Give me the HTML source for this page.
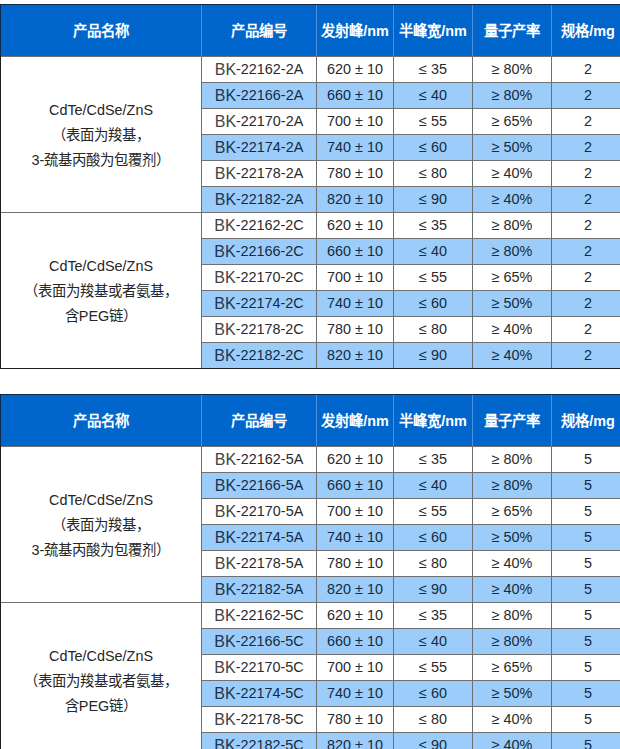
<!DOCTYPE html>
<html lang="zh-CN"><head><meta charset="utf-8"><style>
html,body{margin:0;padding:0;background:#fff;}
body{width:620px;height:749px;overflow:hidden;position:relative;font-family:"Liberation Sans",sans-serif;}
body>div{position:absolute;}
.t{display:flex;align-items:center;justify-content:center;text-align:center;font-size:14.4px;color:#333;white-space:nowrap;}
.h{color:#fff;font-weight:bold;padding-bottom:3px;box-sizing:border-box;}
.d{color:#2a2a2a;padding-bottom:1px;box-sizing:border-box;}
.bk{font-size:16px;color:#444;position:relative;top:1px;}
.a{color:#142a40;}
.a .bk{color:#1f3550;}
.g{line-height:25px;color:#262626;padding-top:1px;box-sizing:border-box;}
</style></head><body>
<div style="left:0px;top:4px;width:620px;height:53px;background:#0066cc"></div>
<div class="t h" style="left:1px;top:5px;width:200px;height:51px">产品名称</div>
<div class="t h" style="left:202px;top:5px;width:114px;height:51px">产品编号</div>
<div class="t h" style="left:317px;top:5px;width:76px;height:51px">发射峰/nm</div>
<div class="t h" style="left:394px;top:5px;width:78px;height:51px">半峰宽/nm</div>
<div class="t h" style="left:473px;top:5px;width:78px;height:51px">量子产率</div>
<div class="t h" style="left:552px;top:5px;width:72px;height:51px">规格/mg</div>
<div style="left:201px;top:82px;width:419px;height:26px;background:#9ccdfa"></div>
<div style="left:201px;top:134px;width:419px;height:26px;background:#9ccdfa"></div>
<div style="left:201px;top:186px;width:419px;height:26px;background:#9ccdfa"></div>
<div style="left:201px;top:238px;width:419px;height:26px;background:#9ccdfa"></div>
<div style="left:201px;top:290px;width:419px;height:26px;background:#9ccdfa"></div>
<div style="left:201px;top:342px;width:419px;height:26px;background:#9ccdfa"></div>
<div style="left:0px;top:56px;width:620px;height:1px;background:#707070"></div>
<div style="left:201px;top:82px;width:419px;height:1px;background:#707070"></div>
<div style="left:201px;top:108px;width:419px;height:1px;background:#707070"></div>
<div style="left:201px;top:134px;width:419px;height:1px;background:#707070"></div>
<div style="left:201px;top:160px;width:419px;height:1px;background:#707070"></div>
<div style="left:201px;top:186px;width:419px;height:1px;background:#707070"></div>
<div style="left:0px;top:212px;width:620px;height:1px;background:#707070"></div>
<div style="left:201px;top:238px;width:419px;height:1px;background:#707070"></div>
<div style="left:201px;top:264px;width:419px;height:1px;background:#707070"></div>
<div style="left:201px;top:290px;width:419px;height:1px;background:#707070"></div>
<div style="left:201px;top:316px;width:419px;height:1px;background:#707070"></div>
<div style="left:201px;top:342px;width:419px;height:1px;background:#707070"></div>
<div style="left:201px;top:4px;width:1px;height:52px;background:#4b8fdd"></div>
<div style="left:201px;top:56px;width:1px;height:312px;background:#707070"></div>
<div style="left:316px;top:4px;width:1px;height:52px;background:#4b8fdd"></div>
<div style="left:316px;top:56px;width:1px;height:312px;background:#707070"></div>
<div style="left:393px;top:4px;width:1px;height:52px;background:#4b8fdd"></div>
<div style="left:393px;top:56px;width:1px;height:312px;background:#707070"></div>
<div style="left:472px;top:4px;width:1px;height:52px;background:#4b8fdd"></div>
<div style="left:472px;top:56px;width:1px;height:312px;background:#707070"></div>
<div style="left:551px;top:4px;width:1px;height:52px;background:#4b8fdd"></div>
<div style="left:551px;top:56px;width:1px;height:312px;background:#707070"></div>
<div style="left:0px;top:4px;width:620px;height:1px;background:#0d2a4d"></div>
<div style="left:0px;top:4px;width:1px;height:52px;background:#0d2a4d"></div>
<div style="left:0px;top:56px;width:1px;height:313px;background:#1e1e1e"></div>
<div style="left:0px;top:368px;width:620px;height:1px;background:#1e1e1e"></div>
<div class="t g" style="left:1px;top:57px;width:200px;height:155px">CdTe/CdSe/ZnS<br>（表面为羧基，<br>3-巯基丙酸为包覆剂）</div>
<div class="t d" style="left:202px;top:57px;width:114px;height:25px"><span class="bk">BK</span>-22162-2A</div>
<div class="t d" style="left:317px;top:57px;width:76px;height:25px">620 ± 10</div>
<div class="t d" style="left:394px;top:57px;width:78px;height:25px">≤ 35</div>
<div class="t d" style="left:473px;top:57px;width:78px;height:25px">≥ 80%</div>
<div class="t d" style="left:552px;top:57px;width:72px;height:25px">2</div>
<div class="t d a" style="left:202px;top:83px;width:114px;height:25px"><span class="bk">BK</span>-22166-2A</div>
<div class="t d a" style="left:317px;top:83px;width:76px;height:25px">660 ± 10</div>
<div class="t d a" style="left:394px;top:83px;width:78px;height:25px">≤ 40</div>
<div class="t d a" style="left:473px;top:83px;width:78px;height:25px">≥ 80%</div>
<div class="t d a" style="left:552px;top:83px;width:72px;height:25px">2</div>
<div class="t d" style="left:202px;top:109px;width:114px;height:25px"><span class="bk">BK</span>-22170-2A</div>
<div class="t d" style="left:317px;top:109px;width:76px;height:25px">700 ± 10</div>
<div class="t d" style="left:394px;top:109px;width:78px;height:25px">≤ 55</div>
<div class="t d" style="left:473px;top:109px;width:78px;height:25px">≥ 65%</div>
<div class="t d" style="left:552px;top:109px;width:72px;height:25px">2</div>
<div class="t d a" style="left:202px;top:135px;width:114px;height:25px"><span class="bk">BK</span>-22174-2A</div>
<div class="t d a" style="left:317px;top:135px;width:76px;height:25px">740 ± 10</div>
<div class="t d a" style="left:394px;top:135px;width:78px;height:25px">≤ 60</div>
<div class="t d a" style="left:473px;top:135px;width:78px;height:25px">≥ 50%</div>
<div class="t d a" style="left:552px;top:135px;width:72px;height:25px">2</div>
<div class="t d" style="left:202px;top:161px;width:114px;height:25px"><span class="bk">BK</span>-22178-2A</div>
<div class="t d" style="left:317px;top:161px;width:76px;height:25px">780 ± 10</div>
<div class="t d" style="left:394px;top:161px;width:78px;height:25px">≤ 80</div>
<div class="t d" style="left:473px;top:161px;width:78px;height:25px">≥ 40%</div>
<div class="t d" style="left:552px;top:161px;width:72px;height:25px">2</div>
<div class="t d a" style="left:202px;top:187px;width:114px;height:25px"><span class="bk">BK</span>-22182-2A</div>
<div class="t d a" style="left:317px;top:187px;width:76px;height:25px">820 ± 10</div>
<div class="t d a" style="left:394px;top:187px;width:78px;height:25px">≤ 90</div>
<div class="t d a" style="left:473px;top:187px;width:78px;height:25px">≥ 40%</div>
<div class="t d a" style="left:552px;top:187px;width:72px;height:25px">2</div>
<div class="t g" style="left:1px;top:213px;width:200px;height:155px">CdTe/CdSe/ZnS<br>（表面为羧基或者氨基，<br>含PEG链）</div>
<div class="t d" style="left:202px;top:213px;width:114px;height:25px"><span class="bk">BK</span>-22162-2C</div>
<div class="t d" style="left:317px;top:213px;width:76px;height:25px">620 ± 10</div>
<div class="t d" style="left:394px;top:213px;width:78px;height:25px">≤ 35</div>
<div class="t d" style="left:473px;top:213px;width:78px;height:25px">≥ 80%</div>
<div class="t d" style="left:552px;top:213px;width:72px;height:25px">2</div>
<div class="t d a" style="left:202px;top:239px;width:114px;height:25px"><span class="bk">BK</span>-22166-2C</div>
<div class="t d a" style="left:317px;top:239px;width:76px;height:25px">660 ± 10</div>
<div class="t d a" style="left:394px;top:239px;width:78px;height:25px">≤ 40</div>
<div class="t d a" style="left:473px;top:239px;width:78px;height:25px">≥ 80%</div>
<div class="t d a" style="left:552px;top:239px;width:72px;height:25px">2</div>
<div class="t d" style="left:202px;top:265px;width:114px;height:25px"><span class="bk">BK</span>-22170-2C</div>
<div class="t d" style="left:317px;top:265px;width:76px;height:25px">700 ± 10</div>
<div class="t d" style="left:394px;top:265px;width:78px;height:25px">≤ 55</div>
<div class="t d" style="left:473px;top:265px;width:78px;height:25px">≥ 65%</div>
<div class="t d" style="left:552px;top:265px;width:72px;height:25px">2</div>
<div class="t d a" style="left:202px;top:291px;width:114px;height:25px"><span class="bk">BK</span>-22174-2C</div>
<div class="t d a" style="left:317px;top:291px;width:76px;height:25px">740 ± 10</div>
<div class="t d a" style="left:394px;top:291px;width:78px;height:25px">≤ 60</div>
<div class="t d a" style="left:473px;top:291px;width:78px;height:25px">≥ 50%</div>
<div class="t d a" style="left:552px;top:291px;width:72px;height:25px">2</div>
<div class="t d" style="left:202px;top:317px;width:114px;height:25px"><span class="bk">BK</span>-22178-2C</div>
<div class="t d" style="left:317px;top:317px;width:76px;height:25px">780 ± 10</div>
<div class="t d" style="left:394px;top:317px;width:78px;height:25px">≤ 80</div>
<div class="t d" style="left:473px;top:317px;width:78px;height:25px">≥ 40%</div>
<div class="t d" style="left:552px;top:317px;width:72px;height:25px">2</div>
<div class="t d a" style="left:202px;top:343px;width:114px;height:25px"><span class="bk">BK</span>-22182-2C</div>
<div class="t d a" style="left:317px;top:343px;width:76px;height:25px">820 ± 10</div>
<div class="t d a" style="left:394px;top:343px;width:78px;height:25px">≤ 90</div>
<div class="t d a" style="left:473px;top:343px;width:78px;height:25px">≥ 40%</div>
<div class="t d a" style="left:552px;top:343px;width:72px;height:25px">2</div>
<div style="left:0px;top:394px;width:620px;height:53px;background:#0066cc"></div>
<div class="t h" style="left:1px;top:395px;width:200px;height:51px">产品名称</div>
<div class="t h" style="left:202px;top:395px;width:114px;height:51px">产品编号</div>
<div class="t h" style="left:317px;top:395px;width:76px;height:51px">发射峰/nm</div>
<div class="t h" style="left:394px;top:395px;width:78px;height:51px">半峰宽/nm</div>
<div class="t h" style="left:473px;top:395px;width:78px;height:51px">量子产率</div>
<div class="t h" style="left:552px;top:395px;width:72px;height:51px">规格/mg</div>
<div style="left:201px;top:472px;width:419px;height:26px;background:#9ccdfa"></div>
<div style="left:201px;top:524px;width:419px;height:26px;background:#9ccdfa"></div>
<div style="left:201px;top:576px;width:419px;height:26px;background:#9ccdfa"></div>
<div style="left:201px;top:628px;width:419px;height:26px;background:#9ccdfa"></div>
<div style="left:201px;top:680px;width:419px;height:26px;background:#9ccdfa"></div>
<div style="left:201px;top:732px;width:419px;height:26px;background:#9ccdfa"></div>
<div style="left:0px;top:446px;width:620px;height:1px;background:#707070"></div>
<div style="left:201px;top:472px;width:419px;height:1px;background:#707070"></div>
<div style="left:201px;top:498px;width:419px;height:1px;background:#707070"></div>
<div style="left:201px;top:524px;width:419px;height:1px;background:#707070"></div>
<div style="left:201px;top:550px;width:419px;height:1px;background:#707070"></div>
<div style="left:201px;top:576px;width:419px;height:1px;background:#707070"></div>
<div style="left:0px;top:602px;width:620px;height:1px;background:#707070"></div>
<div style="left:201px;top:628px;width:419px;height:1px;background:#707070"></div>
<div style="left:201px;top:654px;width:419px;height:1px;background:#707070"></div>
<div style="left:201px;top:680px;width:419px;height:1px;background:#707070"></div>
<div style="left:201px;top:706px;width:419px;height:1px;background:#707070"></div>
<div style="left:201px;top:732px;width:419px;height:1px;background:#707070"></div>
<div style="left:201px;top:394px;width:1px;height:52px;background:#4b8fdd"></div>
<div style="left:201px;top:446px;width:1px;height:312px;background:#707070"></div>
<div style="left:316px;top:394px;width:1px;height:52px;background:#4b8fdd"></div>
<div style="left:316px;top:446px;width:1px;height:312px;background:#707070"></div>
<div style="left:393px;top:394px;width:1px;height:52px;background:#4b8fdd"></div>
<div style="left:393px;top:446px;width:1px;height:312px;background:#707070"></div>
<div style="left:472px;top:394px;width:1px;height:52px;background:#4b8fdd"></div>
<div style="left:472px;top:446px;width:1px;height:312px;background:#707070"></div>
<div style="left:551px;top:394px;width:1px;height:52px;background:#4b8fdd"></div>
<div style="left:551px;top:446px;width:1px;height:312px;background:#707070"></div>
<div style="left:0px;top:394px;width:620px;height:1px;background:#0d2a4d"></div>
<div style="left:0px;top:394px;width:1px;height:52px;background:#0d2a4d"></div>
<div style="left:0px;top:446px;width:1px;height:313px;background:#1e1e1e"></div>
<div style="left:0px;top:758px;width:620px;height:1px;background:#1e1e1e"></div>
<div class="t g" style="left:1px;top:447px;width:200px;height:155px">CdTe/CdSe/ZnS<br>（表面为羧基，<br>3-巯基丙酸为包覆剂）</div>
<div class="t d" style="left:202px;top:447px;width:114px;height:25px"><span class="bk">BK</span>-22162-5A</div>
<div class="t d" style="left:317px;top:447px;width:76px;height:25px">620 ± 10</div>
<div class="t d" style="left:394px;top:447px;width:78px;height:25px">≤ 35</div>
<div class="t d" style="left:473px;top:447px;width:78px;height:25px">≥ 80%</div>
<div class="t d" style="left:552px;top:447px;width:72px;height:25px">5</div>
<div class="t d a" style="left:202px;top:473px;width:114px;height:25px"><span class="bk">BK</span>-22166-5A</div>
<div class="t d a" style="left:317px;top:473px;width:76px;height:25px">660 ± 10</div>
<div class="t d a" style="left:394px;top:473px;width:78px;height:25px">≤ 40</div>
<div class="t d a" style="left:473px;top:473px;width:78px;height:25px">≥ 80%</div>
<div class="t d a" style="left:552px;top:473px;width:72px;height:25px">5</div>
<div class="t d" style="left:202px;top:499px;width:114px;height:25px"><span class="bk">BK</span>-22170-5A</div>
<div class="t d" style="left:317px;top:499px;width:76px;height:25px">700 ± 10</div>
<div class="t d" style="left:394px;top:499px;width:78px;height:25px">≤ 55</div>
<div class="t d" style="left:473px;top:499px;width:78px;height:25px">≥ 65%</div>
<div class="t d" style="left:552px;top:499px;width:72px;height:25px">5</div>
<div class="t d a" style="left:202px;top:525px;width:114px;height:25px"><span class="bk">BK</span>-22174-5A</div>
<div class="t d a" style="left:317px;top:525px;width:76px;height:25px">740 ± 10</div>
<div class="t d a" style="left:394px;top:525px;width:78px;height:25px">≤ 60</div>
<div class="t d a" style="left:473px;top:525px;width:78px;height:25px">≥ 50%</div>
<div class="t d a" style="left:552px;top:525px;width:72px;height:25px">5</div>
<div class="t d" style="left:202px;top:551px;width:114px;height:25px"><span class="bk">BK</span>-22178-5A</div>
<div class="t d" style="left:317px;top:551px;width:76px;height:25px">780 ± 10</div>
<div class="t d" style="left:394px;top:551px;width:78px;height:25px">≤ 80</div>
<div class="t d" style="left:473px;top:551px;width:78px;height:25px">≥ 40%</div>
<div class="t d" style="left:552px;top:551px;width:72px;height:25px">5</div>
<div class="t d a" style="left:202px;top:577px;width:114px;height:25px"><span class="bk">BK</span>-22182-5A</div>
<div class="t d a" style="left:317px;top:577px;width:76px;height:25px">820 ± 10</div>
<div class="t d a" style="left:394px;top:577px;width:78px;height:25px">≤ 90</div>
<div class="t d a" style="left:473px;top:577px;width:78px;height:25px">≥ 40%</div>
<div class="t d a" style="left:552px;top:577px;width:72px;height:25px">5</div>
<div class="t g" style="left:1px;top:603px;width:200px;height:155px">CdTe/CdSe/ZnS<br>（表面为羧基或者氨基，<br>含PEG链）</div>
<div class="t d" style="left:202px;top:603px;width:114px;height:25px"><span class="bk">BK</span>-22162-5C</div>
<div class="t d" style="left:317px;top:603px;width:76px;height:25px">620 ± 10</div>
<div class="t d" style="left:394px;top:603px;width:78px;height:25px">≤ 35</div>
<div class="t d" style="left:473px;top:603px;width:78px;height:25px">≥ 80%</div>
<div class="t d" style="left:552px;top:603px;width:72px;height:25px">5</div>
<div class="t d a" style="left:202px;top:629px;width:114px;height:25px"><span class="bk">BK</span>-22166-5C</div>
<div class="t d a" style="left:317px;top:629px;width:76px;height:25px">660 ± 10</div>
<div class="t d a" style="left:394px;top:629px;width:78px;height:25px">≤ 40</div>
<div class="t d a" style="left:473px;top:629px;width:78px;height:25px">≥ 80%</div>
<div class="t d a" style="left:552px;top:629px;width:72px;height:25px">5</div>
<div class="t d" style="left:202px;top:655px;width:114px;height:25px"><span class="bk">BK</span>-22170-5C</div>
<div class="t d" style="left:317px;top:655px;width:76px;height:25px">700 ± 10</div>
<div class="t d" style="left:394px;top:655px;width:78px;height:25px">≤ 55</div>
<div class="t d" style="left:473px;top:655px;width:78px;height:25px">≥ 65%</div>
<div class="t d" style="left:552px;top:655px;width:72px;height:25px">5</div>
<div class="t d a" style="left:202px;top:681px;width:114px;height:25px"><span class="bk">BK</span>-22174-5C</div>
<div class="t d a" style="left:317px;top:681px;width:76px;height:25px">740 ± 10</div>
<div class="t d a" style="left:394px;top:681px;width:78px;height:25px">≤ 60</div>
<div class="t d a" style="left:473px;top:681px;width:78px;height:25px">≥ 50%</div>
<div class="t d a" style="left:552px;top:681px;width:72px;height:25px">5</div>
<div class="t d" style="left:202px;top:707px;width:114px;height:25px"><span class="bk">BK</span>-22178-5C</div>
<div class="t d" style="left:317px;top:707px;width:76px;height:25px">780 ± 10</div>
<div class="t d" style="left:394px;top:707px;width:78px;height:25px">≤ 80</div>
<div class="t d" style="left:473px;top:707px;width:78px;height:25px">≥ 40%</div>
<div class="t d" style="left:552px;top:707px;width:72px;height:25px">5</div>
<div class="t d a" style="left:202px;top:733px;width:114px;height:25px"><span class="bk">BK</span>-22182-5C</div>
<div class="t d a" style="left:317px;top:733px;width:76px;height:25px">820 ± 10</div>
<div class="t d a" style="left:394px;top:733px;width:78px;height:25px">≤ 90</div>
<div class="t d a" style="left:473px;top:733px;width:78px;height:25px">≥ 40%</div>
<div class="t d a" style="left:552px;top:733px;width:72px;height:25px">5</div>
</body></html>
